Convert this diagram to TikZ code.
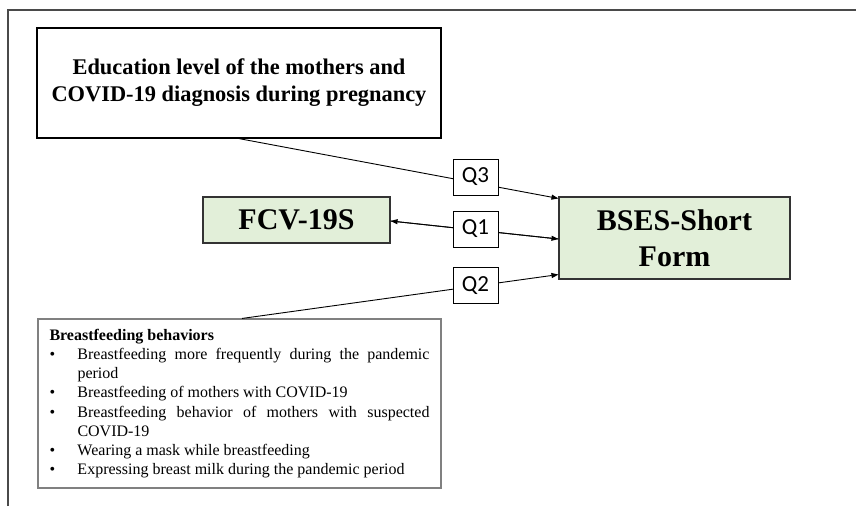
\documentclass[tikz,border=0pt]{standalone}
\usepackage{fontspec}
\setmainfont{Liberation Serif}
\newfontfamily\qfont{Carlito}
\usetikzlibrary{arrows.meta,calc}
\definecolor{boxgreen}{HTML}{E2EFD9}
\definecolor{frame}{HTML}{4A4A4A}
\begin{document}
\begin{tikzpicture}[x=1pt,y=-1pt,
  mainbox/.style={draw=black,line width=1.2pt,rectangle,inner sep=0pt},
  greenbox/.style={draw=black!80,fill=boxgreen,line width=1.1pt,rectangle,inner sep=0pt,
     font=\fontsize{30}{32}\selectfont\bfseries,align=center},
  qbox/.style={draw=black,fill=white,line width=0.9pt,rectangle,inner sep=0pt,
     minimum width=45pt,minimum height=36pt,font=\qfont\fontsize{23}{24}\selectfont},
  conn/.style={line width=0.9pt,draw=black},
  tip/.style={-{Triangle[length=7pt,width=5pt]}}
]
\useasboundingbox (0,0) rectangle (856,506);
\fill[white] (0,0) rectangle (856,506);
% outer frame (open)
\draw[frame,line width=1.5pt] (8,506) -- (8,10) -- (856,10);

% education box
\node[mainbox,minimum width=404pt,minimum height=110pt,
      font=\fontsize{22.4}{27}\selectfont\bfseries,align=center] (edu) at (239,83)
      {Education level of the mothers and\\COVID-19 diagnosis during pregnancy};

% FCV box
\node[greenbox,minimum width=187pt,minimum height=46pt] (fcv) at (296.5,220) {FCV-19S};

% BSES box
\node[greenbox,minimum width=231pt,minimum height=82pt] (bses) at (674.5,238)
     {BSES-Short\\[4pt]Form};

% breastfeeding box
\node[draw=black!50,line width=1.1pt,rectangle,inner sep=0pt,
      minimum width=403pt,minimum height=169pt] (bf) at (239.5,403.5)
{\begin{minipage}{380pt}\fontsize{16}{19.2}\selectfont
\hyphenpenalty=10000
\noindent\textbf{Breastfeeding behaviors}\par
\noindent\hangindent=28pt\hangafter=1\makebox[28pt][l]{\textbullet}Breastfeeding more frequently during the pandemic period\par
\noindent\hangindent=28pt\hangafter=1\makebox[28pt][l]{\textbullet}Breastfeeding of mothers with COVID-19\par
\noindent\hangindent=28pt\hangafter=1\makebox[28pt][l]{\textbullet}Breastfeeding behavior of mothers with suspected COVID-19\par
\noindent\hangindent=28pt\hangafter=1\makebox[28pt][l]{\textbullet}Wearing a mask while breastfeeding\par
\noindent\hangindent=28pt\hangafter=1\makebox[28pt][l]{\textbullet}Expressing breast milk during the pandemic period\par
\end{minipage}};

% connectors
\coordinate (bsesA) at ($(bses.north west)+(0,2)$);
\coordinate (bsesB) at ($(bses.west)+(0,1)$);
\coordinate (bsesC) at ($(bses.south west)+(0,-5)$);
\coordinate (fcvE) at ($(fcv.east)+(0,1)$);
\coordinate (bfT) at ($(bf.north)+(2.5,0)$);

\draw[conn,tip] (edu.south) -- (bsesA);
\draw[conn,tip] (bsesB) -- (fcvE);
\draw[conn,tip] (fcvE) -- (bsesB);
\draw[conn,tip] (bfT) -- (bsesC);

% Q labels
\node[qbox] (q3) at (475.5,177) {Q3};
\node[qbox] (q1) at (475.5,229) {Q1};
\node[qbox] (q2) at (475.5,285.5) {Q2};
\end{tikzpicture}
\end{document}
